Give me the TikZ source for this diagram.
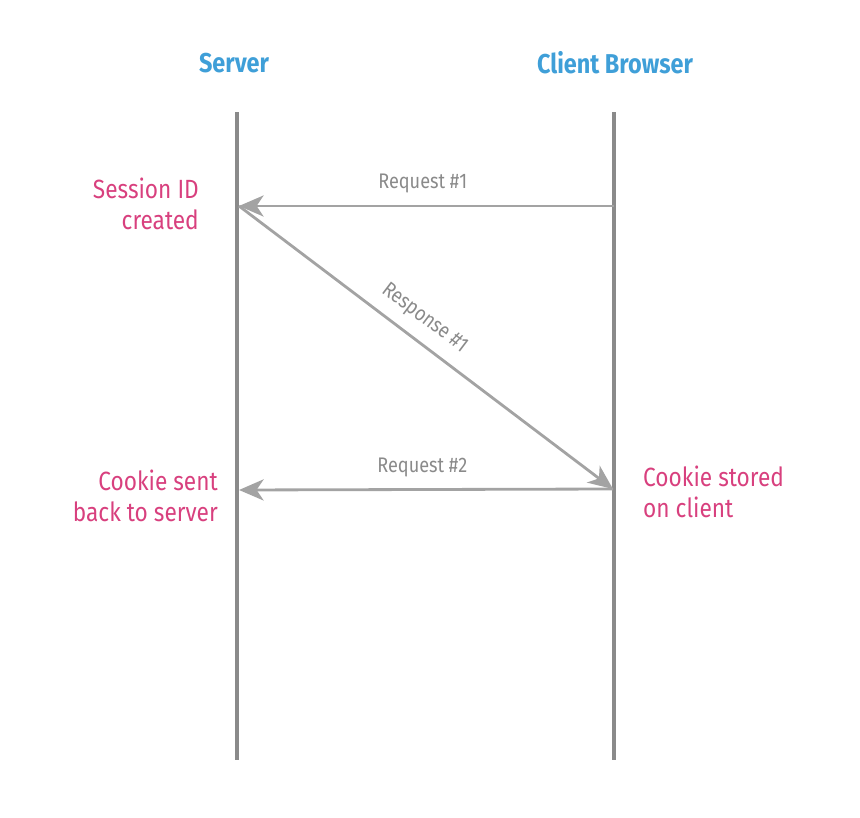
\documentclass[tikz,border=0pt]{standalone}
\usepackage{fontspec}
\setmainfont{Fira Sans}[FakeStretch=0.86]
\usepackage{tikz}
\usetikzlibrary{arrows.meta}

\definecolor{headblue}{HTML}{3F9FD8}
\definecolor{notepink}{HTML}{D8407E}
\definecolor{lifegray}{HTML}{8A8A8A}
\definecolor{msggray}{HTML}{A3A3A3}

\tikzset{
  head/.style={text=headblue,font=\fontsize{15.5}{18}\selectfont\bfseries},
  note/.style={text=notepink,font=\fontsize{15}{18}\selectfont,align=#1},
  note/.default=right,
  msg/.style={draw=msggray,line width=1.6pt,
    -{Stealth[length=14pt,width=12pt,inset=4pt]}},
  msglabel/.style={text=lifegray,font=\fontsize{12}{14}\selectfont},
}

\begin{document}
\begin{tikzpicture}[x=0.02cm,y=-0.02cm]
\useasboundingbox (0,0) rectangle (860,818);
% lifelines
\draw[lifegray,line width=2.3pt] (237,112)--(237,760);
\draw[lifegray,line width=2.3pt] (614,112)--(614,760);
\node[head] (server) at (234,63) {Server};
\node[head] (client) at (615,63) {Client Browser};
% message end points
\coordinate (s1) at (239,206);
\coordinate (c1) at (614,206);
\coordinate (s2) at (239,490);
\coordinate (c2) at (613,489);
% messages
\draw[msg] (c1)--(s1) node[pos=0.51,above=3pt,msglabel] (req1) {Request \#1};
\draw[msg] (s1)--(c2) node[pos=0.46,above=3pt,sloped,msglabel] (resp1) {Response \#1};
\draw[msg] (c2)--(s2) node[pos=0.51,above=3pt,msglabel] (req2) {Request \#2};
% notes
\node[note,anchor=east] (sid) at (205,204) {Session ID\\created};
\node[note,anchor=east] (sent) at (224,496) {Cookie sent\\back to server};
\node[note=left,anchor=west] (stored) at (637,492) {Cookie stored\\on client};
\end{tikzpicture}
\end{document}
